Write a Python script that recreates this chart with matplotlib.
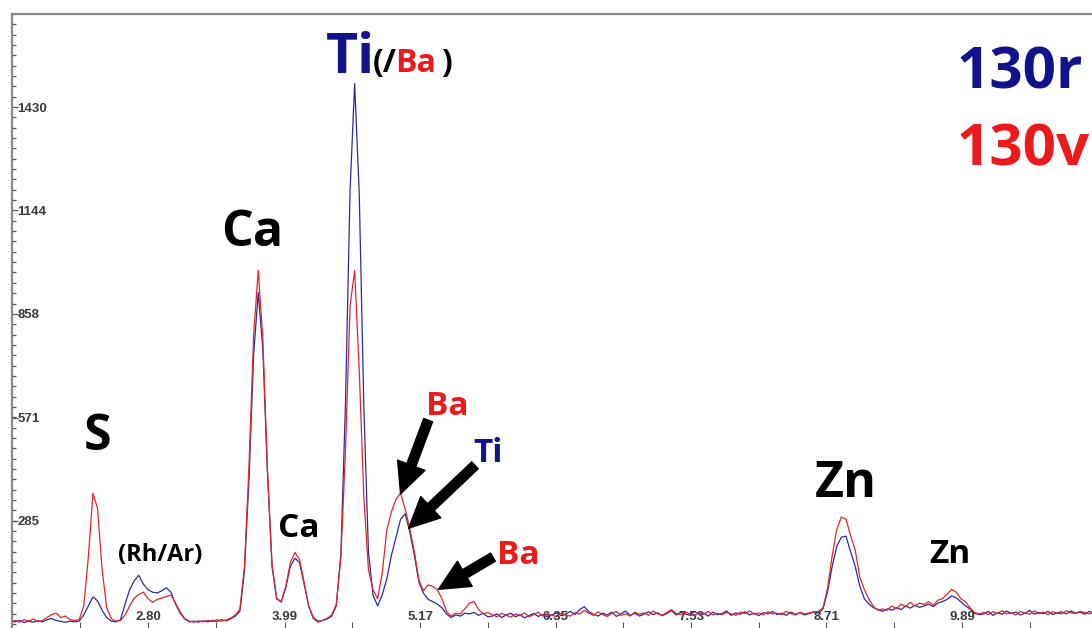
'''
Espectro XRF: comparación de las muestras 130r y 130v
'''

import numpy as np
import matplotlib.pyplot as plt

# cuentas por canal (paso de 0.04 keV desde 1.60 keV)
cuentas_130r = [
    8, 6, 10, 4, 8, 5, 9, 6, 12, 15,
    10, 7, 5, 8, 6, 8, 25, 50, 75, 64,
    38, 18, 8, 6, 12, 55, 95, 120, 135, 110,
    95, 88, 86, 92, 100, 88, 55, 30, 14, 6,
    8, 5, 9, 6, 10, 7, 12, 9, 14, 22,
    35, 145, 405, 745, 917, 760, 420, 160, 70, 62,
    100, 160, 182, 170, 110, 50, 18, 8, 10, 14,
    22, 50, 196, 611, 1200, 1495, 1190, 600, 200, 80,
    50, 80, 125, 190, 240, 290, 305, 255, 190, 115,
    85, 68, 62, 55, 45, 28, 18, 25, 22, 30,
    28, 32, 24, 30, 20,
    22, 28, 18, 25, 30, 20, 26, 17, 24, 29,
    21, 27, 19, 25, 31, 23, 28, 35, 26, 40,
    48, 34, 27, 22, 30, 25, 33, 21, 28, 36,
    24, 30, 22, 27, 34, 26, 31, 23, 29, 37,
    25, 32, 28, 24, 35, 27, 30, 22, 33, 26,
    29, 36, 24, 31, 27, 34, 25, 30, 23, 32,
    28, 35, 26, 30, 24, 33, 27, 31, 25, 29,
    34,
    30, 42, 90, 160, 215, 240, 243, 200, 160, 105,
    70, 55, 45, 40, 35, 42, 38, 45, 40, 50,
    44, 52, 46, 50, 55, 48, 58, 62, 68, 78,
    72, 62, 50, 42, 30, 26,
    28, 35, 24, 31, 27, 36, 29, 33, 25, 30,
    38, 27, 32, 29, 35, 26, 31, 34, 28, 36,
    30, 33, 27, 35, 30,
]

cuentas_130v = [
    6, 10, 5, 12, 8, 14, 6, 10, 18, 26,
    30, 18, 22, 12, 10, 12, 50, 185, 362, 320,
    150, 45, 15, 8, 10, 25, 50, 72, 82, 88,
    70, 60, 68, 72, 76, 80, 58, 33, 15, 8,
    5, 9, 6, 10, 7, 12, 8, 11, 16, 25,
    40, 160, 440, 800, 978, 790, 430, 165, 72, 60,
    105, 170, 198, 178, 115, 48, 15, 5, 10, 16,
    25, 55, 185, 480, 880, 978, 700, 350, 150, 95,
    70, 140, 260, 310, 345, 362, 318, 265, 200, 120,
    92, 108, 104, 95, 70, 35, 22, 30, 28, 42,
    58, 62, 40, 28, 32,
    26, 20, 30, 24, 19, 28, 23, 31, 20, 26,
    33, 22, 29, 24, 20, 30, 25, 22, 32, 27,
    38, 30, 24, 34, 26, 21, 29, 35, 24, 28,
    22, 33, 27, 31, 24, 36, 28, 25, 32, 40,
    29, 26, 34, 28, 23, 31, 27, 35, 25, 30,
    26, 32, 28, 24, 33, 29, 36, 27, 31, 25,
    34, 28, 30, 26, 35, 29, 25, 32, 28, 31,
    33,
    35, 45, 100, 190, 262, 296, 290, 245, 205, 130,
    95, 68, 48, 38, 42, 38, 50, 42, 55, 48,
    60, 50, 58, 54, 62, 52, 66, 70, 82, 96,
    88, 70, 62, 45, 32, 28,
    32, 26, 34, 29, 37, 28, 31, 25, 35, 30,
    27, 36, 29, 33, 26, 34, 30, 28, 37, 31,
    29, 35, 32, 28, 33,
]

energia = np.round(1.60 + 0.04 * np.arange(len(cuentas_130r)), 2)

marcas_x = [2.80, 3.99, 5.17, 6.35, 7.53, 8.71, 9.89]
marcas_x_menores = [2.21, 3.39, 4.58, 5.76, 6.94, 8.12, 9.30, 10.48]
marcas_y = [285, 571, 858, 1144, 1430]

AZUL = '#12128c'
ROJO = '#ec1a1a'
FUENTE = 'Open Sans'

fig = plt.figure(figsize=(10.92, 6.28), dpi=100)
ax = fig.add_axes([12 / 1092, 0, 1080 / 1092, 614 / 628])

ax.plot(energia, cuentas_130r, color='#2b2b9e', lw=0.9)
ax.plot(energia, cuentas_130v, color='#e2262b', lw=0.9)

ax.set_xlim(1.615, 11.023)
ax.set_ylim(-11, 1686)

# ejes al estilo del programa del espectrómetro
for lado in ['right', 'bottom']:
    ax.spines[lado].set_visible(False)
for lado in ['left', 'top']:
    ax.spines[lado].set_color('#8a8a8a')
    ax.spines[lado].set_linewidth(1.6)

ax.set_xticks(marcas_x, labels=[f'{v:.2f}' for v in marcas_x])
ax.set_xticks(marcas_x_menores, minor=True)
ax.set_yticks(marcas_y, labels=[str(v) for v in marcas_y])
ax.set_yticks(np.arange(0, 1690, 28.6), minor=True)

ax.tick_params(axis='x', which='both', direction='in', length=4, width=0.8,
               color='#555555', pad=-12, labelsize=9.5, labelcolor='#3a3a3a')
ax.tick_params(axis='y', which='major', direction='in', length=4, width=0.9,
               color='#555566', pad=-4, labelsize=9.5, labelcolor='#3a3a3a')
ax.tick_params(axis='y', which='minor', direction='in', length=3, width=0.9,
               color='#555566')
for lbl in ax.get_yticklabels():
    lbl.set_horizontalalignment('left')
for lbl in ax.get_xticklabels() + ax.get_yticklabels():
    lbl.set_fontweight('bold')
    lbl.set_family('Liberation Sans')

# etiquetas de elementos
def etiqueta(x, y, texto, tam, color='black', ha='center'):
    ax.text(x, y, texto, ha=ha, va='baseline', fontsize=tam,
            fontweight='bold', family=FUENTE, color=color)

etiqueta(2.364, 481, 'S', 36)
etiqueta(2.905, 174, '(Rh/Ar)', 17)
etiqueta(3.706, 1047, 'Ca', 36)
etiqueta(4.115, 240, 'Ca', 24)
etiqueta(8.880, 351, 'Zn', 36)
etiqueta(9.786, 169, 'Zn', 24)

etiqueta(4.350, 1525, 'Ti', 40, AZUL, ha='left')
etiqueta(4.760, 1528, '(/', 23, ha='left')
etiqueta(4.950, 1528, 'Ba', 23, ROJO, ha='left')
etiqueta(5.355, 1528, ')', 23, ha='left')

etiqueta(9.847, 1481, '130r', 42, AZUL, ha='left')
etiqueta(9.847, 1268, '130v', 42, ROJO, ha='left')

etiqueta(5.405, 577, 'Ba', 24, ROJO)
etiqueta(5.762, 448, 'Ti', 24, AZUL)
etiqueta(6.023, 166, 'Ba', 24, ROJO)

# flechas hacia los picos solapados
flecha = dict(arrowstyle='simple,head_length=1.1,head_width=1.05,tail_width=0.34',
              color='black', mutation_scale=20, shrinkA=0, shrinkB=0)
ax.annotate('', xy=(5.00, 360), xytext=(5.24, 564), arrowprops=flecha)
ax.annotate('', xy=(5.07, 265), xytext=(5.648, 439), arrowprops=flecha)
ax.annotate('', xy=(5.33, 96), xytext=(5.805, 185), arrowprops=flecha)

fig.savefig('out.png', dpi=100, facecolor='white')
